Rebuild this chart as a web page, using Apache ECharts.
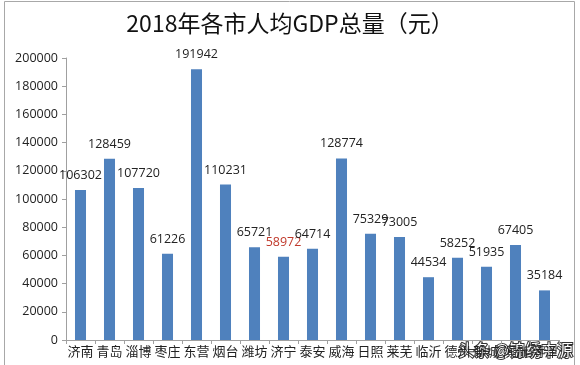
<!DOCTYPE html>
<html><head><meta charset="utf-8">
<script src="https://cdn.jsdelivr.net/npm/echarts@6/dist/echarts.min.js"></script>
<style>html,body{margin:0;padding:0;background:#fff}#c{width:580px;height:365px}</style>
</head><body><div id="c"></div>
<script>
const categories = ['济南','青岛','淄博','枣庄','东营','烟台','潍坊','济宁','泰安','威海','日照','莱芜','临沂','德州','聊城','滨州','菏泽'];
const values = [106302,128459,107720,61226,191942,110231,65721,58972,64714,128774,75329,73005,44534,58252,51935,67405,35184];
const highlightCity = '济宁';
const titleText = '2018年各市人均GDP总量（元）';
const watermark = '头条 @锦绣中源';

const chart = echarts.init(document.getElementById('c'));
chart.setOption({
  animation: false,
  backgroundColor: '#fff',
  title: {text: titleText, left: 'center', top: 7,
    textStyle: {fontFamily: 'Noto Sans CJK SC', fontWeight: 'normal', fontSize: 23, color: '#111'}},
  grid: {left: 66, right: 21, top: 58, bottom: 25, containLabel: false},
  xAxis: {type: 'category', data: categories,
    axisLine: {lineStyle: {color: '#a0a0a0'}},
    axisTick: {show: true, alignWithLabel: false, length: 4, lineStyle: {color: '#a0a0a0'}},
    axisLabel: {color: '#222', fontSize: 13, fontFamily: 'Noto Sans CJK SC', margin: 5, interval: 0}},
  yAxis: {type: 'value', min: 0, max: 200000, interval: 20000,
    axisLine: {show: true, lineStyle: {color: '#a0a0a0'}},
    axisTick: {show: true, length: 4, lineStyle: {color: '#a0a0a0'}},
    splitLine: {show: false},
    axisLabel: {color: '#222', fontSize: 12.5, fontFamily: 'Open Sans', margin: 8, formatter: v => String(v)}},
  series: [{type: 'bar', barWidth: '38%',
    data: values.map((v, i) => ({value: v,
      label: {color: categories[i] === highlightCity ? '#c0392b' : '#222'}})),
    itemStyle: {color: '#4f81bd'},
    label: {show: true, position: 'top', distance: 8, fontSize: 12.5, fontFamily: 'Open Sans', color: '#222'}}],
  graphic: [
    {type: 'rect', shape: {x: 4.5, y: 1.5, width: 570, height: 372}, style: {fill: 'none', stroke: '#a8a8a8', lineWidth: 1}, silent: true},
    {type: 'text', right: 6, bottom: 6, style: {text: watermark, fontSize: 16, fontFamily: 'Noto Sans CJK SC', fill: '#fff', stroke: '#333', lineWidth: 2}}
  ]
});
</script></body></html>
